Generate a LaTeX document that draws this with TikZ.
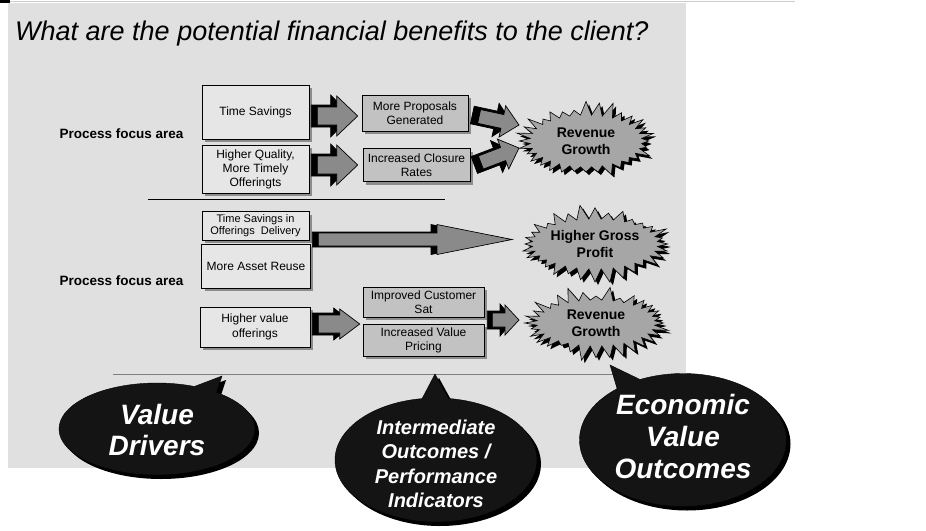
\documentclass[tikz,border=0pt]{standalone}
\usepackage{fontspec}
\setmainfont{Liberation Sans}
\usetikzlibrary{calc,shapes.symbols,shapes.callouts,shadows}
\definecolor{bggray}{HTML}{E0E0E0}
\definecolor{boxfill}{HTML}{E6E6E6}
\definecolor{midfill}{HTML}{C2C2C2}
\definecolor{shadowgray}{HTML}{8C8C8C}
\definecolor{arrowgray}{HTML}{8A8A8A}
\definecolor{burstgray}{HTML}{A6A6A6}
\definecolor{calloutfill}{HTML}{141414}
\definecolor{linegray}{HTML}{808080}
\tikzset{
  barrow/.style n args={3}{to path={
    let \p1=(\tikztostart), \p2=(\tikztotarget) in
    ($(\p1)!#1!90:(\p2)$)
    -- ($(\p2)!#3!(\p1)!#1!-90:(\p1)$)
    -- ($(\p2)!#3!(\p1)!#2!-90:(\p1)$)
    -- (\p2)
    -- ($(\p2)!#3!(\p1)!#2!90:(\p1)$)
    -- ($(\p2)!#3!(\p1)!#1!90:(\p1)$)
    -- ($(\p1)!#1!-90:(\p2)$)
    -- cycle}},
  lbox/.style={draw=black, fill=boxfill, line width=0.6pt, inner sep=1pt, align=center,
    font=\fontsize{12}{14}\selectfont,
    drop shadow={fill=shadowgray, opacity=1, shadow xshift=3pt, shadow yshift=-3pt}},
  mbox/.style={lbox, fill=midfill},
  burst/.style={starburst, starburst points=32, starburst point height=15pt, random starburst=7,
    fill=burstgray, draw=black, line width=0.6pt, inner sep=0pt, align=center,
    font=\bfseries\fontsize{14}{17}\selectfont,
    drop shadow={fill=black, opacity=1, shadow xshift=3pt, shadow yshift=-3pt}},
  callbox/.style={ellipse callout, fill=calloutfill, draw=black, inner sep=0pt,
    drop shadow={fill=black, opacity=1, shadow xshift=4pt, shadow yshift=-4pt}},
  calltext/.style={text=white, align=center, inner sep=0pt},
  areatext/.style={font=\bfseries\fontsize{13.5}{15}\selectfont, anchor=west}
}
\newcommand\blockarrow[8]{%
  \draw[line width=0.7pt, fill=black, barrow={#6}{#7}{#5}] (#1) to ($(#2)!#8!(#1)$);
  \draw[line width=0.7pt, fill=arrowgray, barrow={#3}{#4}{#5}] ($(#1)!#8!(#2)$) to (#2);
}
\begin{document}
\begin{tikzpicture}[x=1pt, y=-1pt]
\useasboundingbox (0,0) rectangle (926,530);
\fill[white] (0,0) rectangle (926,530);
\fill[bggray] (8,3) rectangle (686,468);
\draw[gray!40, line width=0.8pt] (8,1) -- (795,1);
\fill[black] (0,0) rectangle (10,2.5);

\node[font=\itshape\fontsize{27}{30}\selectfont, anchor=base west, inner sep=0pt] (title) at (15,40)
  {What are the potential financial benefits to the client?};

\node[areatext] (pfa1) at (56,134) {Process focus area};
\node[areatext] (pfa2) at (56,281) {Process focus area};

\draw[black, line width=0.8pt] (148,199) coordinate (d1) -- (445,199) coordinate (d2);
\draw[linegray, line width=0.8pt] (113,374) coordinate (d3) -- (620,374) coordinate (d4);

% left boxes
\node[lbox, minimum width=107pt, minimum height=54pt] (ts) at (255.5,112) {Time Savings};
\node[lbox, minimum width=107pt, minimum height=48pt] (hq) at (255.5,169) {Higher Quality,\\More Timely\\Offeringts};
\node[lbox, minimum width=107pt, minimum height=28.5pt, font=\fontsize{11}{12}\selectfont] (tsd) at (255.5,226) {Time Savings in\\Offerings\ \ Delivery};
\node[lbox, minimum width=108.5pt, minimum height=44pt] (mar) at (256,266) {More Asset Reuse};
\node[lbox, minimum width=110pt, minimum height=40pt, font=\fontsize{12}{15}\selectfont] (hv) at (255,327) {Higher value\\offerings};

% middle boxes
\node[mbox, minimum width=106pt, minimum height=36pt] (mp) at (415,113) {More Proposals\\Generated};
\node[mbox, minimum width=107pt, minimum height=33pt] (ic) at (416.5,165) {Increased Closure\\Rates};
\node[mbox, minimum width=121pt, minimum height=30pt] (ics) at (423.5,302) {Improved Customer\\Sat};
\node[mbox, minimum width=121pt, minimum height=32pt] (ivp) at (423.5,340) {Increased Value\\Pricing};

% starbursts
\node[burst, minimum width=142pt, minimum height=82pt] (rg1) at (586,141) {Revenue\\Growth};
\node[burst, minimum width=146pt, minimum height=80pt, random starburst=11] (hgp) at (595,244) {Higher Gross\\Profit};
\node[burst, minimum width=148pt, minimum height=76pt, random starburst=23] (rg2) at (596,323) {Revenue\\Growth};

% arrow end points
\coordinate (a1s) at ($(ts.east)+(2,4)$);
\coordinate (a1e) at ($(mp.west)+(-4,3)$);
\coordinate (a2s) at ($(hq.east)+(2,-4)$);
\coordinate (a2e) at ($(ic.west)+(-5,0)$);
\coordinate (a3s) at ($(mp.east)+(4,2)$);
\coordinate (a3e) at ($(rg1.center)+(-67,-16)$);
\coordinate (a4s) at ($(ic.east)+(4,0)$);
\coordinate (a4e) at ($(rg1.center)+(-67,7)$);
\coordinate (a5s) at ($(tsd.south east)+(3,-1)$);
\coordinate (a5e) at ($(hgp.center)+(-83,-4.5)$);
\coordinate (a6s) at ($(hv.east)+(2,-3)$);
\coordinate (a6e) at ($(ivp.west)+(-3,-16)$);
\coordinate (a7s) at ($(ivp.east)+(3,-20)$);
\coordinate (a7e) at ($(rg2.center)+(-77,-3)$);

\blockarrow{a1s}{a1e}{9pt}{20pt}{21pt}{11pt}{21pt}{6pt}
\blockarrow{a2s}{a2e}{9pt}{20pt}{21pt}{11pt}{21pt}{6pt}
\blockarrow{a3s}{a3e}{7pt}{16pt}{17pt}{9pt}{17pt}{7pt}
\blockarrow{a4s}{a4e}{7pt}{16pt}{17pt}{9pt}{17pt}{7pt}
\blockarrow{a5s}{a5e}{6.5pt}{15pt}{75pt}{7.5pt}{15pt}{6pt}
\blockarrow{a6s}{a6e}{9pt}{15pt}{20pt}{11pt}{16pt}{6pt}
\blockarrow{a7s}{a7e}{7pt}{15pt}{14pt}{9pt}{16pt}{5pt}

% callouts
\node[callbox, minimum width=196pt, minimum height=92pt, callout absolute pointer={(222,376)},
  label={[calltext, font=\bfseries\itshape\fontsize{28}{31}\selectfont, yshift=-1pt]center:{Value\\Drivers}}] (vd) at (157,429) {};
\node[callbox, minimum width=202pt, minimum height=124pt, callout absolute pointer={(435,374)},
  label={[calltext, font=\bfseries\itshape\fontsize{20}{24.5}\selectfont, yshift=-4pt]center:{Intermediate\\Outcomes /\\Performance\\Indicators}}] (io) at (436,460) {};
\node[callbox, minimum width=207pt, minimum height=133pt, callout absolute pointer={(610,365)},
  label={[calltext, font=\bfseries\itshape\fontsize{28}{32}\selectfont, yshift=4pt]center:{Economic\\Value\\Outcomes}}] (ev) at (683,440) {};
\end{tikzpicture}
\end{document}
